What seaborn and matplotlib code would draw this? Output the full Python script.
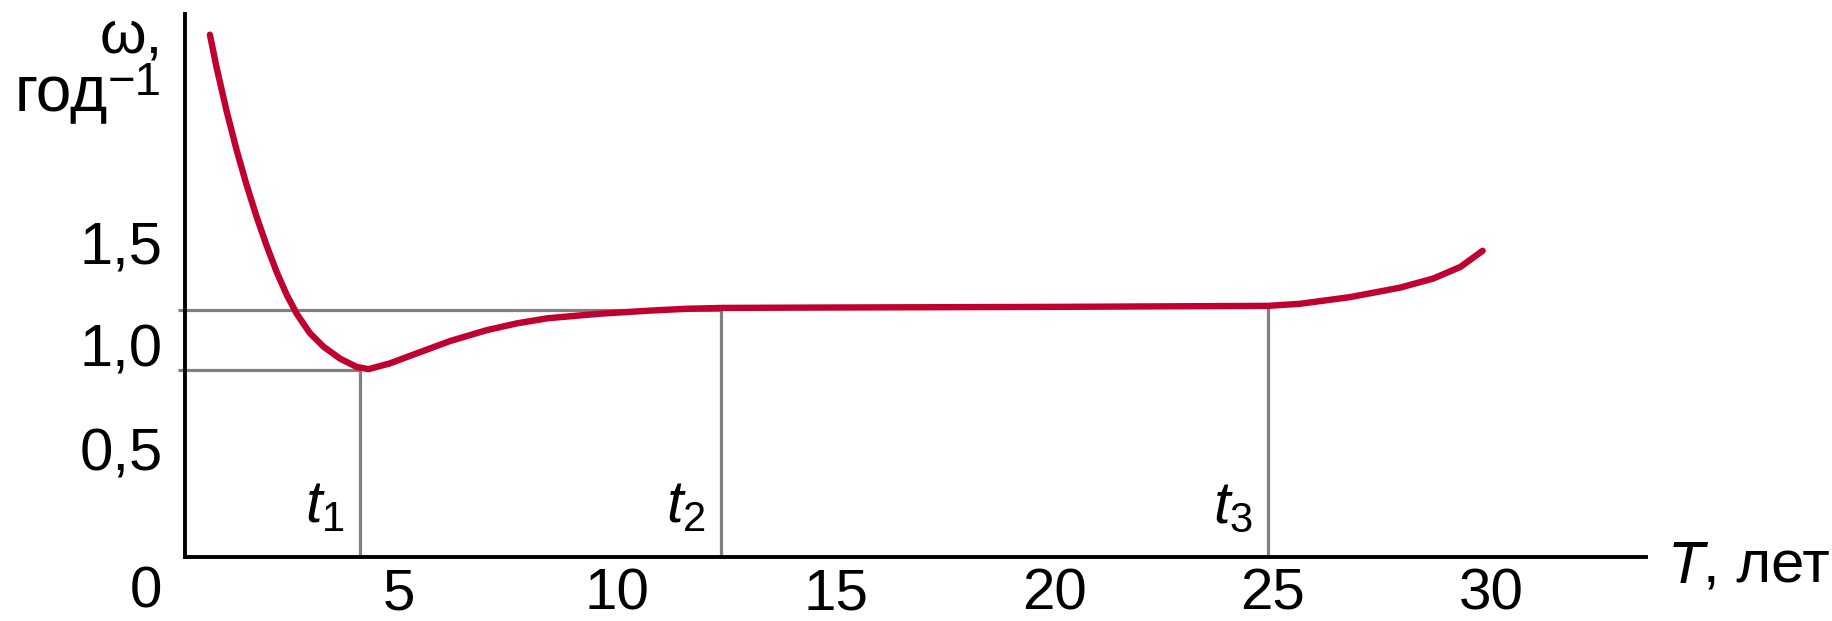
import matplotlib
matplotlib.use("Agg")
import matplotlib.pyplot as plt
import seaborn as sns
import pandas as pd

# ---- data ----
T_years = [0.67, 0.82, 1.05, 1.28, 1.51, 1.74, 1.97, 2.20, 2.43, 2.66, 2.96, 3.27,
           3.65, 4.03, 4.30, 4.79, 5.40, 6.17, 7.00, 7.69, 8.40, 9.60, 10.75, 11.60,
           12.40, 15.0, 20.0, 24.9, 25.63, 26.77, 27.92, 28.68, 29.30, 29.81]
omega = [2.50, 2.345, 2.133, 1.944, 1.774, 1.620, 1.480, 1.353, 1.243, 1.151, 1.058, 0.993,
         0.935, 0.895, 0.884, 0.912, 0.960, 1.020, 1.072, 1.105, 1.130, 1.152, 1.167, 1.176,
         1.180, 1.182, 1.185, 1.190, 1.200, 1.232, 1.278, 1.322, 1.378, 1.456]

t_marks = [4.10, 12.38, 24.90]          # t1, t2, t3
t_omega = [0.884, 1.178, 1.19]          # curve value at t1, t2, t3
t_labels = ["$t_1$", "$t_2$", "$t_3$"]
h_levels = [0.882, 1.17]                # horizontal guide levels
h_ends = [4.10, 12.38]                  # where guides stop

x_ticks = [5, 10, 15, 20, 25, 30]
x_ticklabels = ["5", "10", "15", "20", "25", "30"]
y_ticks = [0.5, 1.0, 1.5]
y_ticklabels = ["0,5", "1,0", "1,5"]

df = pd.DataFrame({"T": T_years, "omega": omega})

# ---- style ----
sns.set_style("white")
plt.rcParams['font.family'] = ['Liberation Sans', 'DejaVu Sans']
plt.rcParams['mathtext.fontset'] = 'custom'
plt.rcParams['mathtext.it'] = 'Liberation Sans:italic'
plt.rcParams['mathtext.rm'] = 'Liberation Sans'

RED = "#c0002f"
GRAY = "#808080"
FS = 43

W, H = 1833, 621
fig = plt.figure(figsize=(W / 100, H / 100), dpi=100)
ax = fig.add_axes([185 / W, 1 - 556.7 / H, (1646 - 185) / W, (556.7 - 14) / H])

# guide lines
ax.hlines(h_levels, xmin=-0.05, xmax=h_ends, color=GRAY, lw=2.3, clip_on=False, zorder=2)
ax.vlines(t_marks, ymin=-0.022, ymax=t_omega, color=GRAY, lw=2.3, zorder=2)

# curve
sns.lineplot(data=df, x="T", y="omega", ax=ax, color=RED, lw=4.6,
             sort=False, estimator=None, zorder=3)
for ln in ax.get_lines():
    ln.set_solid_joinstyle("round")
    ln.set_solid_capstyle("round")

ax.set_xlim(0.1, 33.55)
ax.set_ylim(-0.022, 2.60)
ax.set_xlabel("")
ax.set_ylabel("")

for s in ["top", "right"]:
    ax.spines[s].set_visible(False)
for s in ["left", "bottom"]:
    ax.spines[s].set_linewidth(2.8)
    ax.spines[s].set_color("black")

ax.set_xticks(x_ticks)
ax.set_xticklabels(x_ticklabels)
ax.set_yticks(y_ticks)
ax.set_yticklabels(y_ticklabels)
ax.tick_params(axis="both", direction="in", length=26.6, width=2.2, color="black",
               labelsize=FS, labelcolor="black")
ax.tick_params(axis="x", pad=8, labelsize=42)
ax.tick_params(axis="y", pad=16)

# t labels
for t, lab in zip(t_marks, t_labels):
    ax.annotate(lab, xy=(t, 0), xycoords=("data", "axes fraction"),
                xytext=(-11, 24.5), textcoords="offset points",
                ha="right", va="baseline", fontsize=FS, color="black")

# corner zero
fig.text(162 / W, 1 - 566 / H, "0", ha="right", va="top", fontsize=42, color="black")

# y label
fig.text(163 / W, 1 - 53 / H, "ω,", ha="right", va="baseline", fontsize=FS, color="black")
fig.text(15 / W, 1 - 111.7 / H, "год", ha="left", va="baseline", fontsize=46, color="black")
fig.text(108 / W, 1 - 95 / H, "−1", ha="left", va="baseline", fontsize=34, color="black")

# x label
fig.text(1668 / W, 1 - 583 / H, "T", ha="left", va="baseline", fontsize=FS,
         style="italic", color="black")
fig.text(1703 / W, 1 - 583 / H, ", лет", ha="left", va="baseline", fontsize=FS, color="black")

fig.savefig("out.png", dpi=100, facecolor="white")
